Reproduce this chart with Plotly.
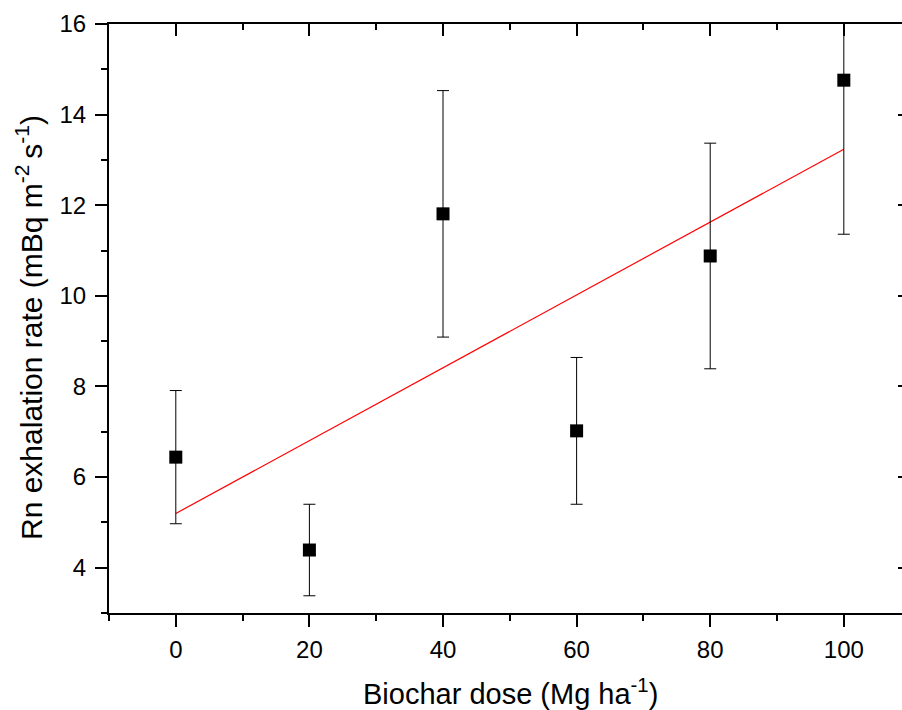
import numpy as np
import plotly.graph_objects as go

dose = [0, 20, 40, 60, 80, 100]
rate = [6.44, 4.39, 11.81, 7.02, 10.88, 14.76]
err = [1.47, 1.01, 2.72, 1.62, 2.49, 3.40]

x_title = "Biochar dose (Mg ha<sup>-1</sup>)"
y_title = "Rn exhalation rate (mBq m<sup>-2 </sup>s<sup>-1</sup>)"

slope, intercept = np.polyfit(dose, rate, 1)
fit_x = [min(dose), max(dose)]
fit_y = [intercept + slope * v for v in fit_x]

FONT = "Liberation Sans, Arial, sans-serif"

fig = go.Figure()
fig.add_trace(go.Scatter(
    x=fit_x, y=fit_y, mode="lines",
    line=dict(color="red", width=1.2), showlegend=False, hoverinfo="skip"))
fig.add_trace(go.Scatter(
    x=dose, y=rate, mode="markers",
    marker=dict(symbol="square", size=13, color="black"),
    error_y=dict(type="data", array=err, visible=True, color="black",
                 thickness=1, width=6),
    showlegend=False))
# invisible trace to host mirrored axes
fig.add_trace(go.Scatter(x=[None], y=[None], xaxis="x2", yaxis="y2",
                         showlegend=False, hoverinfo="skip"))

xr = [-10, 108.71]
yr = [3, 16]

W, H = 902, 710
L, R, T, B = 109, 0, 24, 97
pw, ph = W - L - R, H - T - B

fig.update_layout(
    width=W, height=H,
    margin=dict(l=L, r=R, t=T, b=B, pad=0),
    paper_bgcolor="white", plot_bgcolor="white",
    font=dict(family=FONT, size=24, color="black"),
    xaxis=dict(range=xr, tickvals=[0, 20, 40, 60, 80, 100],
               ticks="outside", ticklen=12, tickwidth=2, tickcolor="black",
               minor=dict(tickvals=[-10, 10, 30, 50, 70, 90, 110], ticks="outside",
                          ticklen=6, tickwidth=2, tickcolor="black"),
               showline=True, linewidth=2, linecolor="black",
               showgrid=False, zeroline=False, ticklabelstandoff=2,
               tickfont=dict(size=24, family=FONT)),
    yaxis=dict(range=yr, tickvals=[4, 6, 8, 10, 12, 14, 16],
               ticks="outside", ticklen=12, tickwidth=2, tickcolor="black",
               minor=dict(tickvals=[3, 5, 7, 9, 11, 13, 15], ticks="outside",
                          ticklen=6, tickwidth=2, tickcolor="black"),
               showline=True, linewidth=2, linecolor="black",
               showgrid=False, zeroline=False, ticklabelstandoff=4,
               tickfont=dict(size=24, family=FONT)),
    xaxis2=dict(range=xr, overlaying="x", side="top", anchor="y2",
                tickvals=[0, 20, 40, 60, 80, 100],
                ticks="inside", ticklen=12, tickwidth=2, tickcolor="black",
                minor=dict(tickvals=[-10, 10, 30, 50, 70, 90, 110], ticks="inside",
                           ticklen=6, tickwidth=2, tickcolor="black"),
                showticklabels=False, showline=True, linewidth=2, linecolor="black",
                showgrid=False, zeroline=False),
    yaxis2=dict(range=yr, overlaying="y", side="right", anchor="x2",
                tickvals=[4, 6, 8, 10, 12, 14, 16],
                ticks="inside", ticklen=4, tickwidth=2, tickcolor="black",
                showticklabels=False, showline=False,
                showgrid=False, zeroline=False),
    annotations=[
        dict(text=x_title, xref="paper", yref="paper", x=(510 - L) / pw, y=-(692 - (H - B)) / ph,
             xanchor="center", yanchor="middle", showarrow=False,
             font=dict(size=29, family=FONT)),
        dict(text=y_title, xref="paper", yref="paper", x=-(L - 29) / pw, y=((H - B) - 328) / ph,
             xanchor="center", yanchor="middle", showarrow=False, textangle=-90,
             font=dict(size=30, family=FONT)),
    ],
)

fig.write_html("out.html", config={"displayModeBar": False},
               post_script="document.body.style.margin='0';document.body.style.overflow='hidden';")
